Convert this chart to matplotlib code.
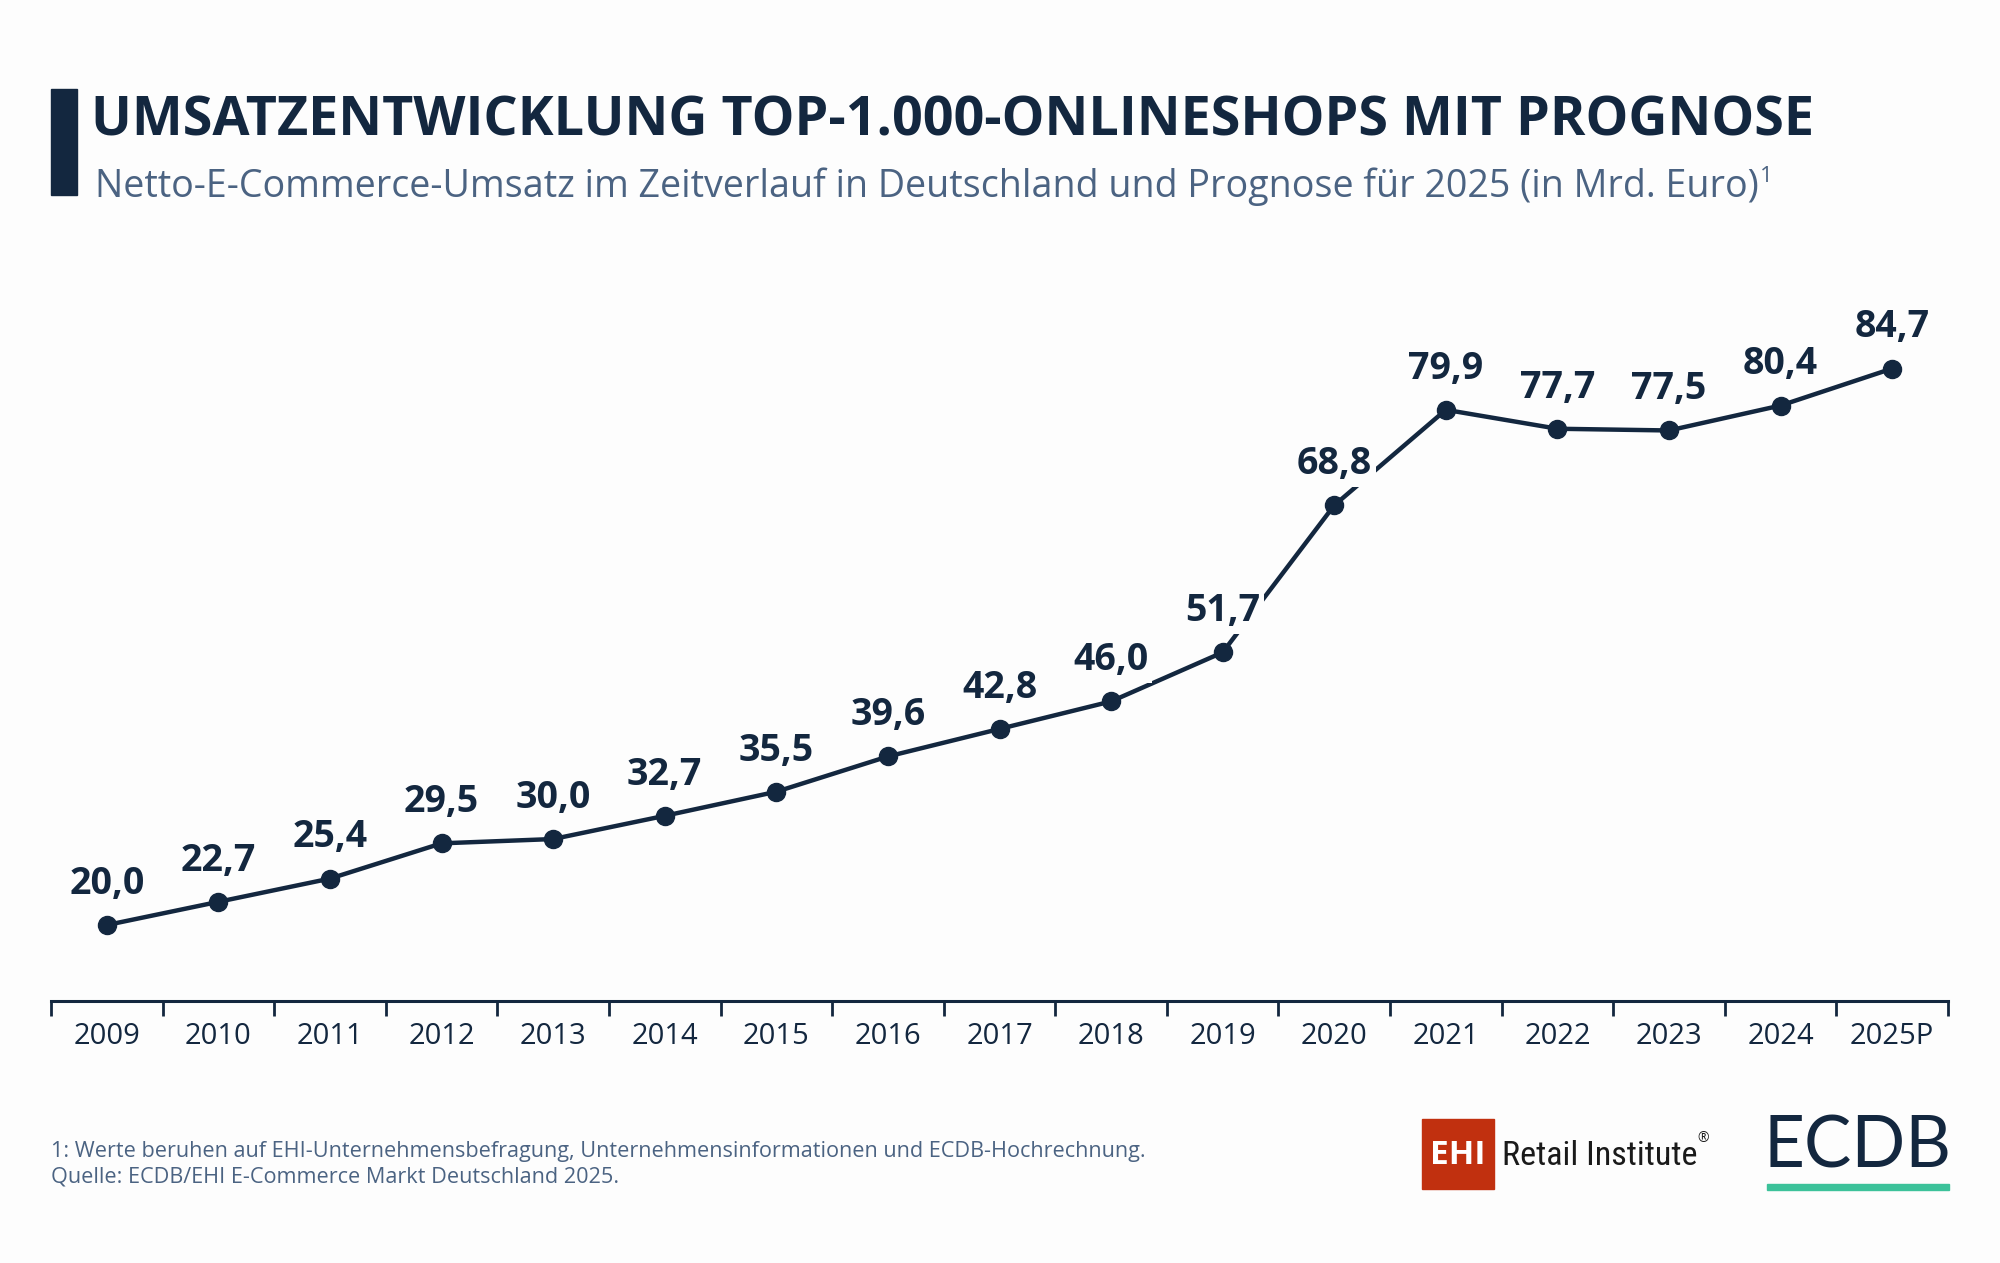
import matplotlib
matplotlib.use("Agg")
import matplotlib.pyplot as plt
from matplotlib.patches import Rectangle

# Daten
jahre = ["2009", "2010", "2011", "2012", "2013", "2014", "2015", "2016", "2017",
         "2018", "2019", "2020", "2021", "2022", "2023", "2024", "2025P"]
umsatz = [20.0, 22.7, 25.4, 29.5, 30.0, 32.7, 35.5, 39.6, 42.8,
          46.0, 51.7, 68.8, 79.9, 77.7, 77.5, 80.4, 84.7]

titel = "UMSATZENTWICKLUNG TOP-1.000-ONLINESHOPS MIT PROGNOSE"
untertitel = "Netto-E-Commerce-Umsatz im Zeitverlauf in Deutschland und Prognose für 2025 (in Mrd. Euro)"
fussnote = ["1: Werte beruhen auf EHI-Unternehmensbefragung, Unternehmensinformationen und ECDB-Hochrechnung.",
            "Quelle: ECDB/EHI E-Commerce Markt Deutschland 2025."]

NAVY = "#13273f"
GRAU = "#4b6382"
BG = "#fdfdfd"
W, H = 2000, 1263

plt.rcParams["font.family"] = ["Open Sans", "DejaVu Sans"]


def fx(px):
    return px / W


def fy(py):
    return 1 - py / H


fig = plt.figure(figsize=(20, 12.63), dpi=100, facecolor=BG)

# Diagramm
ax = fig.add_axes([fx(51), fy(1001), fx(1948) - fx(51), fy(255) - fy(1001)])
ax.set_facecolor(BG)

# Titelblock
fig.patches.append(Rectangle((fx(51), fy(195)), fx(77) - fx(51), fy(89) - fy(195),
                             transform=fig.transFigure, color=NAVY))
fig.text(fx(91), fy(136), titel, fontsize=38.8, fontweight="bold", color=NAVY, va="baseline")
sub = fig.text(fx(95), fy(197), untertitel, fontsize=27.1, color=GRAU, va="baseline")
ax.annotate("1", xy=(1, 1), xycoords=sub, xytext=(1, 1), textcoords="offset points",
            fontsize=16, color=GRAU, va="top", ha="left", annotation_clip=False)

x = list(range(len(jahre)))
ax.plot(x, umsatz, color=NAVY, lw=3.2, marker="o", markersize=13, zorder=3)
for xi, v in zip(x, umsatz):
    ax.annotate(f"{v:.1f}".replace(".", ","), (xi, v), xytext=(0, 16), textcoords="offset points",
                ha="center", va="bottom", fontsize=27, fontweight="bold", color=NAVY, zorder=4,
                bbox=dict(boxstyle="square,pad=0.1", fc=BG, ec="none"))

ax.set_xlim(-0.5, len(jahre) - 0.5)
ax.set_ylim(11.17, 97.9)
for s in ["top", "right", "left"]:
    ax.spines[s].set_visible(False)
ax.spines["bottom"].set_color(NAVY)
ax.spines["bottom"].set_linewidth(2.2)
ax.set_yticks([])
ax.set_xticks(x)
ax.set_xticklabels(jahre)
ax.set_xticks([i - 0.5 for i in range(len(jahre) + 1)], minor=True)
ax.tick_params(axis="x", which="major", length=0, pad=15, labelsize=21, labelcolor=NAVY)
ax.tick_params(axis="x", which="minor", length=11, width=2, color=NAVY, direction="out")

# Fußnote
fig.text(fx(51), fy(1157), fussnote[0], fontsize=15.6, color=GRAU, va="baseline")
fig.text(fx(51), fy(1183), fussnote[1], fontsize=15.6, color=GRAU, va="baseline")

# Logos
fig.patches.append(Rectangle((fx(1422), fy(1189)), fx(1494) - fx(1422), fy(1119) - fy(1189),
                             transform=fig.transFigure, color="#c1300f"))
fig.text(fx(1458), fy(1156), "EHI", fontsize=24, fontweight="bold", color="white",
         ha="center", va="center")
fig.text(fx(1502), fy(1156), "Retail Institute", fontsize=24.6, color="#1a1a1a",
         va="center", family=["Roboto Condensed", "Liberation Sans Narrow", "Open Sans"])
fig.text(fx(1697), fy(1138), "®", fontsize=10, color="#1a1a1a", va="center")
fig.text(fx(1858), fy(1147), "ECDB", fontsize=51, color=NAVY, ha="center", va="center",
         family=["Lato", "DejaVu Sans"])
fig.patches.append(Rectangle((fx(1767), fy(1190)), fx(1949) - fx(1767), fy(1184) - fy(1190),
                             transform=fig.transFigure, color="#3cc29a"))

fig.savefig("out.png", dpi=100, facecolor=BG)
